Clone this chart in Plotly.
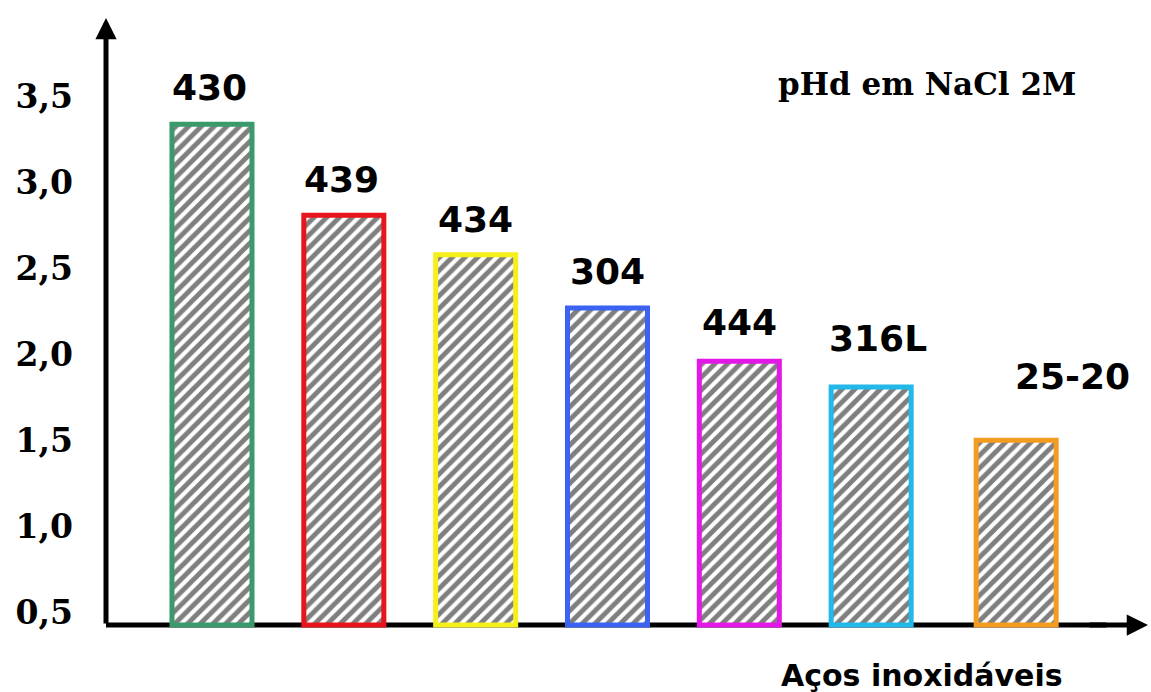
import plotly.graph_objects as go

# pHd of stainless steels in 2M NaCl
steels = ["430", "439", "434", "304", "444", "316L", "25-20"]
phd = [3.34, 2.81, 2.58, 2.27, 1.96, 1.81, 1.50]
tick_values = [0.5, 1.0, 1.5, 2.0, 2.5, 3.0, 3.5]
tick_labels = ["0,5", "1,0", "1,5", "2,0", "2,5", "3,0", "3,5"]

edge_colors = ["#3a9a6c", "#e8141b", "#f6f01a", "#3b62f0", "#e418e6", "#22b8e8", "#f29d22"]

Y_ORIGIN = 0.425          # value where the horizontal axis sits
Y_RANGE = [0.3377, 3.958]
X_RANGE = [-0.804, 7.10]
BAR_W = 0.607
bar_shift = [0, 0, 0, 0, 0, 0, 0.1]          # extra slot offset per bar
label_dx = [-2, -2, 0, 0, 0, 7, 70]           # label nudges in px
label_dy = [14, 13, 13, 14, 16, 26, 41]

fig = go.Figure()
fig.add_trace(go.Bar(
    x=steels,
    y=[v - Y_ORIGIN for v in phd],
    base=Y_ORIGIN,
    width=BAR_W,
    offset=[-BAR_W / 2 + s for s in bar_shift],
    marker=dict(
        color="white",
        line=dict(color=edge_colors, width=5),
        pattern=dict(shape="/", fgcolor="black", bgcolor="white",
                     size=9, solidity=0.55),
    ),
    hoverinfo="skip",
))

SANS = "DejaVu Sans"
SERIF = "DejaVu Serif"

annotations = []
for i, (name, v, dx, dy) in enumerate(zip(steels, phd, label_dx, label_dy)):
    annotations.append(dict(
        x=i, y=v, xref="x", yref="y", text=name, showarrow=False,
        xanchor="center", yanchor="bottom", xshift=dx, yshift=dy,
        font=dict(family=SANS, size=36, color="black", weight="bold"),
    ))

# vertical axis with arrow
annotations.append(dict(
    x=0, y=1, xref="paper", yref="paper", text="", showarrow=True,
    ax=0, ay=607, axref="pixel", ayref="pixel",
    arrowhead=2, arrowwidth=5, arrowsize=0.85, arrowcolor="black",
))
# arrow tip of horizontal axis
annotations.append(dict(
    x=1, y=Y_ORIGIN, xref="paper", yref="y", text="", showarrow=True,
    ax=-60, ay=0, axref="pixel", ayref="pixel",
    arrowhead=2, arrowwidth=5, arrowsize=0.85, arrowcolor="black",
))

annotations.append(dict(
    x=776, y=84, xref="paper", yref="paper", text="pHd em NaCl 2M",
    showarrow=False, xanchor="left", yanchor="middle",
    font=dict(family=SERIF, size=31, color="black", weight="bold"),
))
annotations.append(dict(
    x=922, y=675, xref="paper", yref="paper", text="Aços inoxidáveis",
    showarrow=False, xanchor="center", yanchor="middle",
    font=dict(family=SANS, size=30, color="black", weight="bold"),
))

# convert the two pixel-placed titles to paper coordinates
L, R, T, B = 106, 3, 18, 52
W, H = 1151, 692
pw, ph = W - L - R, H - T - B
for a in annotations[-2:]:
    a["x"] = (a["x"] - L) / pw
    a["y"] = 1 - (a["y"] - T) / ph

fig.update_layout(
    width=W, height=H,
    margin=dict(l=L, r=R, t=T, b=B, pad=0),
    paper_bgcolor="white",
    plot_bgcolor="rgba(0,0,0,0)",
    showlegend=False,
    annotations=annotations,
    shapes=[dict(
        type="line", xref="paper", yref="y",
        x0=0, x1=0.96, y0=Y_ORIGIN, y1=Y_ORIGIN,
        line=dict(color="black", width=5), layer="below",
    )],
    xaxis=dict(
        type="category", range=X_RANGE, showticklabels=False,
        showgrid=False, zeroline=False, showline=False, ticks="",
    ),
    yaxis=dict(
        range=Y_RANGE, tickvals=tick_values, ticktext=tick_labels,
        showgrid=False, zeroline=False, showline=False, ticks="",
        ticklabelstandoff=32,
        tickfont=dict(family=SERIF, size=33, color="black", weight="bold"),
    ),
)

fig.write_html("out.html")
